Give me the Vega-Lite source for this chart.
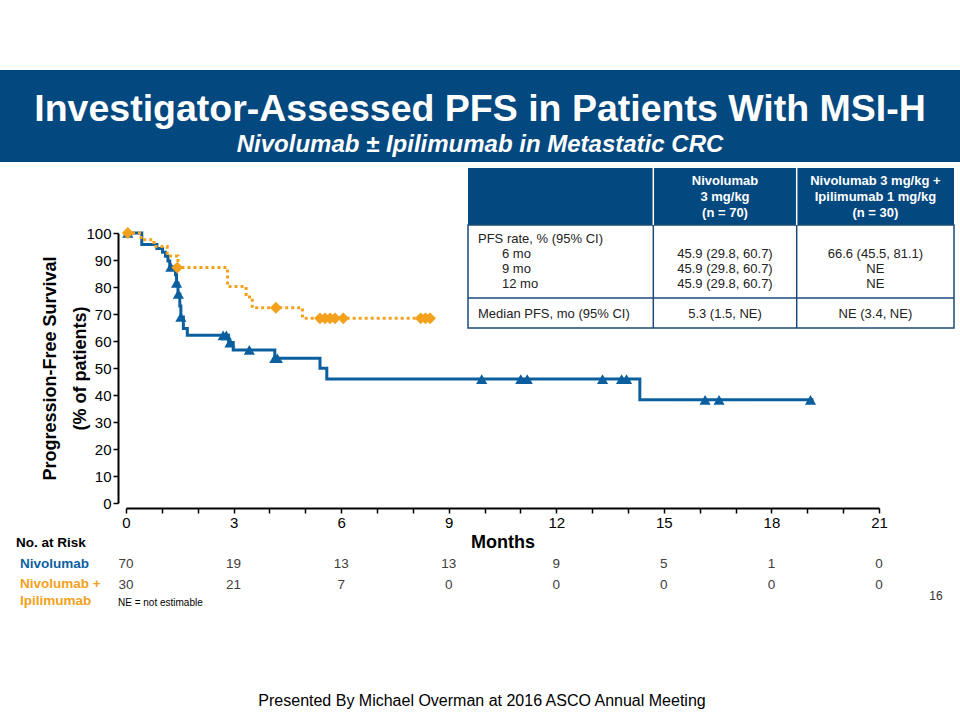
{
  "$schema": "https://vega.github.io/schema/vega-lite/v6.json",
  "width": 753,
  "height": 270,
  "autosize": {"type": "none"},
  "padding": {"left": 126, "top": 233, "right": 81, "bottom": 217},
  "background": "white",
  "config": {
    "view": {"stroke": null},
    "font": "Liberation Sans",
    "text": {"font": "Liberation Sans"}
  },
  "datasets": {
    "km": [
      {"arm": "Nivolumab", "month": 0, "pct": 100},
      {"arm": "Nivolumab", "month": 0.44, "pct": 95.7},
      {"arm": "Nivolumab", "month": 0.86, "pct": 94.3},
      {"arm": "Nivolumab", "month": 1.02, "pct": 92.9},
      {"arm": "Nivolumab", "month": 1.10, "pct": 91.4},
      {"arm": "Nivolumab", "month": 1.17, "pct": 89.6},
      {"arm": "Nivolumab", "month": 1.22, "pct": 87.4},
      {"arm": "Nivolumab", "month": 1.38, "pct": 84.5},
      {"arm": "Nivolumab", "month": 1.41, "pct": 81.5},
      {"arm": "Nivolumab", "month": 1.45, "pct": 77.4},
      {"arm": "Nivolumab", "month": 1.50, "pct": 73.0},
      {"arm": "Nivolumab", "month": 1.53, "pct": 68.9},
      {"arm": "Nivolumab", "month": 1.60, "pct": 64.6},
      {"arm": "Nivolumab", "month": 1.71, "pct": 62.1},
      {"arm": "Nivolumab", "month": 2.86, "pct": 59.4},
      {"arm": "Nivolumab", "month": 2.99, "pct": 56.7},
      {"arm": "Nivolumab", "month": 4.15, "pct": 53.6},
      {"arm": "Nivolumab", "month": 5.41, "pct": 49.9},
      {"arm": "Nivolumab", "month": 5.60, "pct": 45.9},
      {"arm": "Nivolumab", "month": 14.33, "pct": 38.2},
      {"arm": "Nivolumab", "month": 19.17, "pct": 38.2},
      {"arm": "Nivolumab + Ipilimumab", "month": 0, "pct": 100},
      {"arm": "Nivolumab + Ipilimumab", "month": 0.42, "pct": 97.5},
      {"arm": "Nivolumab + Ipilimumab", "month": 0.78, "pct": 95.0},
      {"arm": "Nivolumab + Ipilimumab", "month": 1.15, "pct": 91.5},
      {"arm": "Nivolumab + Ipilimumab", "month": 1.45, "pct": 87.2},
      {"arm": "Nivolumab + Ipilimumab", "month": 2.83, "pct": 80.2},
      {"arm": "Nivolumab + Ipilimumab", "month": 3.35, "pct": 76.3},
      {"arm": "Nivolumab + Ipilimumab", "month": 3.52, "pct": 72.3},
      {"arm": "Nivolumab + Ipilimumab", "month": 4.92, "pct": 68.4},
      {"arm": "Nivolumab + Ipilimumab", "month": 8.59, "pct": 68.4}
    ],
    "censor": [
      {"arm": "Nivolumab", "month": 0.05, "pct": 100},
      {"arm": "Nivolumab", "month": 1.25, "pct": 87.4},
      {"arm": "Nivolumab", "month": 1.41, "pct": 81.5},
      {"arm": "Nivolumab", "month": 1.46, "pct": 77.4},
      {"arm": "Nivolumab", "month": 1.53, "pct": 68.9},
      {"arm": "Nivolumab", "month": 2.71, "pct": 62.1},
      {"arm": "Nivolumab", "month": 2.80, "pct": 62.1},
      {"arm": "Nivolumab", "month": 2.90, "pct": 59.4},
      {"arm": "Nivolumab", "month": 3.44, "pct": 56.7},
      {"arm": "Nivolumab", "month": 4.15, "pct": 53.6},
      {"arm": "Nivolumab", "month": 4.22, "pct": 53.6},
      {"arm": "Nivolumab", "month": 9.92, "pct": 45.9},
      {"arm": "Nivolumab", "month": 11.01, "pct": 45.9},
      {"arm": "Nivolumab", "month": 11.19, "pct": 45.9},
      {"arm": "Nivolumab", "month": 13.29, "pct": 45.9},
      {"arm": "Nivolumab", "month": 13.82, "pct": 45.9},
      {"arm": "Nivolumab", "month": 13.96, "pct": 45.9},
      {"arm": "Nivolumab", "month": 16.15, "pct": 38.2},
      {"arm": "Nivolumab", "month": 16.54, "pct": 38.2},
      {"arm": "Nivolumab", "month": 19.09, "pct": 38.2},
      {"arm": "Nivolumab + Ipilimumab", "month": 0.05, "pct": 100},
      {"arm": "Nivolumab + Ipilimumab", "month": 1.43, "pct": 87.2},
      {"arm": "Nivolumab + Ipilimumab", "month": 4.18, "pct": 72.3},
      {"arm": "Nivolumab + Ipilimumab", "month": 5.41, "pct": 68.4},
      {"arm": "Nivolumab + Ipilimumab", "month": 5.55, "pct": 68.4},
      {"arm": "Nivolumab + Ipilimumab", "month": 5.69, "pct": 68.4},
      {"arm": "Nivolumab + Ipilimumab", "month": 5.83, "pct": 68.4},
      {"arm": "Nivolumab + Ipilimumab", "month": 6.06, "pct": 68.4},
      {"arm": "Nivolumab + Ipilimumab", "month": 8.22, "pct": 68.4},
      {"arm": "Nivolumab + Ipilimumab", "month": 8.35, "pct": 68.4},
      {"arm": "Nivolumab + Ipilimumab", "month": 8.48, "pct": 68.4}
    ],
    "atrisk": [
      {"arm": "Nivolumab", "month": 0, "n": 70},
      {"arm": "Nivolumab", "month": 3, "n": 19},
      {"arm": "Nivolumab", "month": 6, "n": 13},
      {"arm": "Nivolumab", "month": 9, "n": 13},
      {"arm": "Nivolumab", "month": 12, "n": 9},
      {"arm": "Nivolumab", "month": 15, "n": 5},
      {"arm": "Nivolumab", "month": 18, "n": 1},
      {"arm": "Nivolumab", "month": 21, "n": 0},
      {"arm": "Nivolumab + Ipilimumab", "month": 0, "n": 30},
      {"arm": "Nivolumab + Ipilimumab", "month": 3, "n": 21},
      {"arm": "Nivolumab + Ipilimumab", "month": 6, "n": 7},
      {"arm": "Nivolumab + Ipilimumab", "month": 9, "n": 0},
      {"arm": "Nivolumab + Ipilimumab", "month": 12, "n": 0},
      {"arm": "Nivolumab + Ipilimumab", "month": 15, "n": 0},
      {"arm": "Nivolumab + Ipilimumab", "month": 18, "n": 0},
      {"arm": "Nivolumab + Ipilimumab", "month": 21, "n": 0}
    ],
    "risklabels": [
      {"kind": "heading", "row": "heading", "text": "No. at Risk"},
      {"kind": "arm", "row": "Nivolumab", "text": "Nivolumab"},
      {"kind": "arm", "row": "Nivolumab + Ipilimumab", "text": "Nivolumab +\nIpilimumab"}
    ],
    "tableheader": [
      {"col": "nivo", "line": 1, "text": "Nivolumab"},
      {"col": "nivo", "line": 2, "text": "3 mg/kg"},
      {"col": "nivo", "line": 3, "text": "(n = 70)"},
      {"col": "combo", "line": 1, "text": "Nivolumab 3 mg/kg +"},
      {"col": "combo", "line": 2, "text": "Ipilimumab 1 mg/kg"},
      {"col": "combo", "line": 3, "text": "(n = 30)"}
    ],
    "tablelabels": [
      {"level": "main", "line": 1, "text": "PFS rate, % (95% CI)"},
      {"level": "sub", "line": 2, "text": "6 mo"},
      {"level": "sub", "line": 3, "text": "9 mo"},
      {"level": "sub", "line": 4, "text": "12 mo"},
      {"level": "main", "line": 6, "text": "Median PFS, mo (95% CI)"}
    ],
    "tablevalues": [
      {"col": "nivo", "line": 2, "text": "45.9 (29.8, 60.7)"},
      {"col": "nivo", "line": 3, "text": "45.9 (29.8, 60.7)"},
      {"col": "nivo", "line": 4, "text": "45.9 (29.8, 60.7)"},
      {"col": "nivo", "line": 6, "text": "5.3 (1.5, NE)"},
      {"col": "combo", "line": 2, "text": "66.6 (45.5, 81.1)"},
      {"col": "combo", "line": 3, "text": "NE"},
      {"col": "combo", "line": 4, "text": "NE"},
      {"col": "combo", "line": 6, "text": "NE (3.4, NE)"}
    ],
    "separators": [
      {"sep": "a", "top": "top", "bottom": "bottom"},
      {"sep": "b", "top": "top", "bottom": "bottom"}
    ]
  },
  "layer": [
    {
      "data": {"values": [{"part": "banner"}]},
      "mark": {"type": "rect", "color": "#03487f"},
      "encoding": {
        "x": {"field": "part", "type": "nominal", "scale": {"type": "band", "domain": ["banner"], "range": [-126, 834], "paddingInner": 0, "paddingOuter": 0}, "axis": null},
        "y": {"field": "part", "type": "nominal", "scale": {"type": "band", "domain": ["banner"], "range": [-163, -71], "paddingInner": 0, "paddingOuter": 0}, "axis": null}
      }
    },
    {
      "data": {"values": [{"line": "title", "text": "Investigator-Assessed PFS in Patients With MSI-H"}]},
      "mark": {"type": "text", "color": "white", "fontSize": 37.5, "fontWeight": "bold", "align": "center", "baseline": "alphabetic"},
      "encoding": {
        "x": {"field": "line", "type": "nominal", "scale": {"type": "point", "domain": ["title"], "range": [353, 355]}, "axis": null},
        "y": {"field": "line", "type": "nominal", "scale": {"type": "point", "domain": ["title"], "range": [-113, -111]}, "axis": null},
        "text": {"field": "text"}
      }
    },
    {
      "data": {"values": [{"line": "subtitle", "text": "Nivolumab ± Ipilimumab in Metastatic CRC"}]},
      "mark": {"type": "text", "color": "white", "fontSize": 24, "fontWeight": "bold", "fontStyle": "italic", "align": "center", "baseline": "alphabetic"},
      "encoding": {
        "x": {"field": "line", "type": "nominal", "scale": {"type": "point", "domain": ["subtitle"], "range": [353, 355]}, "axis": null},
        "y": {"field": "line", "type": "nominal", "scale": {"type": "point", "domain": ["subtitle"], "range": [-82, -80]}, "axis": null},
        "text": {"field": "text"}
      }
    },
    {
      "data": {"values": [{"part": "header"}]},
      "mark": {"type": "rect", "color": "#03487f"},
      "encoding": {
        "x": {"field": "part", "type": "nominal", "scale": {"type": "band", "domain": ["header"], "range": [342, 828], "paddingInner": 0, "paddingOuter": 0}, "axis": null},
        "y": {"field": "part", "type": "nominal", "scale": {"type": "band", "domain": ["header"], "range": [-65, -8], "paddingInner": 0, "paddingOuter": 0}, "axis": null}
      }
    },
    {
      "data": {"values": [{"part": "body"}]},
      "mark": {"type": "rect", "fill": "white", "stroke": "#1b4b7a", "strokeWidth": 1.5},
      "encoding": {
        "x": {"field": "part", "type": "nominal", "scale": {"type": "band", "domain": ["body"], "range": [342, 828], "paddingInner": 0, "paddingOuter": 0}, "axis": null},
        "y": {"field": "part", "type": "nominal", "scale": {"type": "band", "domain": ["body"], "range": [-8, 95], "paddingInner": 0, "paddingOuter": 0}, "axis": null}
      }
    },
    {
      "data": {"values": [{"x1": "left", "x2": "right", "row": "sep"}]},
      "mark": {"type": "rule", "color": "#1b4b7a", "strokeWidth": 1.5},
      "encoding": {
        "x": {"field": "x1", "type": "nominal", "scale": {"type": "point", "domain": ["left", "right"], "range": [342, 828], "padding": 0}, "axis": null},
        "x2": {"field": "x2"},
        "y": {"field": "row", "type": "nominal", "scale": {"type": "point", "domain": ["sep"], "range": [64, 66]}, "axis": null}
      }
    },
    {
      "data": {"name": "separators"},
      "mark": {"type": "rule", "color": "#1b4b7a", "strokeWidth": 1.5},
      "encoding": {
        "x": {"field": "sep", "type": "nominal", "scale": {"type": "point", "domain": ["a", "b"], "range": [527.3, 670.7], "padding": 0}, "axis": null},
        "y": {"field": "top", "type": "nominal", "scale": {"type": "point", "domain": ["top", "bottom"], "range": [-8, 95], "padding": 0}, "axis": null},
        "y2": {"field": "bottom"}
      }
    },
    {
      "data": {"name": "separators"},
      "mark": {"type": "rule", "color": "white", "strokeWidth": 1.5},
      "encoding": {
        "x": {"field": "sep", "type": "nominal", "scale": {"type": "point", "domain": ["a", "b"], "range": [527.3, 670.7], "padding": 0}, "axis": null},
        "y": {"field": "top", "type": "nominal", "scale": {"type": "point", "domain": ["top", "bottom"], "range": [-65, -8], "padding": 0}, "axis": null},
        "y2": {"field": "bottom"}
      }
    },
    {
      "data": {"name": "tableheader"},
      "mark": {"type": "text", "color": "white", "fontSize": 13, "fontWeight": "bold", "align": "center", "baseline": "alphabetic"},
      "encoding": {
        "x": {"field": "col", "type": "nominal", "scale": {"type": "point", "domain": ["nivo", "combo"], "range": [599, 749.4], "padding": 0}, "axis": null},
        "y": {"field": "line", "type": "ordinal", "scale": {"type": "point", "domain": [1, 2, 3], "range": [-48, -16], "padding": 0}, "axis": null},
        "text": {"field": "text"}
      }
    },
    {
      "data": {"name": "tablelabels"},
      "mark": {"type": "text", "color": "#222222", "fontSize": 13, "align": "left", "baseline": "alphabetic"},
      "encoding": {
        "x": {"field": "level", "type": "nominal", "scale": {"type": "point", "domain": ["main", "sub"], "range": [352, 376], "padding": 0}, "axis": null},
        "y": {"field": "line", "type": "ordinal", "scale": {"type": "point", "domain": [1, 2, 3, 4, 5, 6], "range": [10, 85], "padding": 0}, "axis": null},
        "text": {"field": "text"}
      }
    },
    {
      "data": {"name": "tablevalues"},
      "mark": {"type": "text", "color": "#222222", "fontSize": 13, "align": "center", "baseline": "alphabetic"},
      "encoding": {
        "x": {"field": "col", "type": "nominal", "scale": {"type": "point", "domain": ["nivo", "combo"], "range": [599, 749.4], "padding": 0}, "axis": null},
        "y": {"field": "line", "type": "ordinal", "scale": {"type": "point", "domain": [1, 2, 3, 4, 5, 6], "range": [10, 85], "padding": 0}, "axis": null},
        "text": {"field": "text"}
      }
    },
    {
      "encoding": {
        "x": {
          "field": "month", "type": "quantitative",
          "scale": {"domain": [0, 21], "nice": false, "zero": false},
          "axis": {
            "values": [0, 1, 2, 3, 4, 5, 6, 7, 8, 9, 10, 11, 12, 13, 14, 15, 16, 17, 18, 19, 20, 21],
            "labelExpr": "datum.value % 3 === 0 ? datum.label : ''",
            "labelOverlap": false, "labelFlush": false, "grid": false,
            "offset": 5, "tickSize": 5, "tickWidth": 1.5, "tickColor": "black",
            "domainColor": "black", "domainWidth": 2,
            "labelFontSize": 15, "labelColor": "black", "labelPadding": 2,
            "title": "Months", "titleFontSize": 18, "titleFontWeight": "bold", "titleColor": "black", "titlePadding": 3
          }
        },
        "y": {
          "field": "pct", "type": "quantitative",
          "scale": {"domain": [0, 100], "nice": false},
          "axis": {
            "values": [0, 10, 20, 30, 40, 50, 60, 70, 80, 90, 100],
            "labelOverlap": false, "labelFlush": false,
            "grid": false, "offset": 8, "tickSize": 5, "tickWidth": 1.5, "tickColor": "black",
            "domainColor": "black", "domainWidth": 2,
            "labelFontSize": 15, "labelColor": "black", "labelPadding": 2,
            "title": ["Progression-Free Survival", "(% of patients)"],
            "titleFontSize": 18, "titleFontWeight": "bold", "titleColor": "black", "titlePadding": -4, "titleLineHeight": 30
          }
        },
        "color": {"field": "arm", "type": "nominal", "scale": {"domain": ["Nivolumab", "Nivolumab + Ipilimumab"], "range": ["#0b5f9f", "#f3a11c"]}, "legend": null}
      },
      "layer": [
        {
          "data": {"name": "km"},
          "mark": {"type": "line", "interpolate": "step-after", "strokeWidth": 3},
          "encoding": {
            "strokeDash": {"field": "arm", "type": "nominal", "scale": {"domain": ["Nivolumab", "Nivolumab + Ipilimumab"], "range": [[1, 0], [3, 3]]}, "legend": null}
          }
        },
        {
          "data": {"name": "censor"},
          "mark": {"type": "point", "filled": true, "opacity": 1},
          "encoding": {
            "shape": {"field": "arm", "type": "nominal", "scale": {"domain": ["Nivolumab", "Nivolumab + Ipilimumab"], "range": ["triangle-up", "diamond"]}, "legend": null},
            "size": {"field": "arm", "type": "nominal", "scale": {"domain": ["Nivolumab", "Nivolumab + Ipilimumab"], "range": [125, 140]}, "legend": null}
          }
        }
      ]
    },
    {
      "data": {"name": "atrisk"},
      "mark": {"type": "text", "color": "#404040", "fontSize": 13.5, "align": "center", "baseline": "alphabetic"},
      "encoding": {
        "x": {"field": "month", "type": "quantitative", "scale": {"domain": [0, 21], "nice": false, "zero": false}, "axis": null},
        "y": {"field": "arm", "type": "nominal", "scale": {"type": "point", "domain": ["Nivolumab", "Nivolumab + Ipilimumab"], "range": [334.5, 355.5], "padding": 0}, "axis": null},
        "text": {"field": "n", "type": "quantitative"}
      }
    },
    {
      "data": {"name": "risklabels"},
      "mark": {"type": "text", "fontSize": 13.5, "fontWeight": "bold", "align": "left", "baseline": "alphabetic", "lineBreak": "\n", "lineHeight": 17},
      "encoding": {
        "x": {"field": "kind", "type": "nominal", "scale": {"type": "point", "domain": ["heading", "arm"], "range": [-110, -106], "padding": 0}, "axis": null},
        "y": {"field": "row", "type": "nominal", "scale": {"type": "point", "domain": ["heading", "Nivolumab", "Nivolumab + Ipilimumab"], "range": [314, 355], "padding": 0}, "axis": null},
        "color": {"field": "row", "type": "nominal", "scale": {"domain": ["heading", "Nivolumab", "Nivolumab + Ipilimumab"], "range": ["black", "#0b5f9f", "#f3a11c"]}, "legend": null},
        "text": {"field": "text"}
      }
    },
    {
      "data": {"values": [{"note": "ne", "text": "NE = not estimable"}]},
      "mark": {"type": "text", "color": "black", "fontSize": 10, "align": "left", "baseline": "alphabetic"},
      "encoding": {
        "x": {"field": "note", "type": "nominal", "scale": {"type": "point", "domain": ["ne"], "range": [-9, -7]}, "axis": null},
        "y": {"field": "note", "type": "nominal", "scale": {"type": "point", "domain": ["ne"], "range": [372, 374]}, "axis": null},
        "text": {"field": "text"}
      }
    },
    {
      "data": {"values": [{"note": "page", "text": "16"}]},
      "mark": {"type": "text", "color": "#333333", "fontSize": 12, "align": "center", "baseline": "alphabetic"},
      "encoding": {
        "x": {"field": "note", "type": "nominal", "scale": {"type": "point", "domain": ["page"], "range": [809, 811]}, "axis": null},
        "y": {"field": "note", "type": "nominal", "scale": {"type": "point", "domain": ["page"], "range": [366, 368]}, "axis": null},
        "text": {"field": "text"}
      }
    },
    {
      "data": {"values": [{"note": "footer", "text": "Presented By Michael Overman at 2016 ASCO Annual Meeting"}]},
      "mark": {"type": "text", "color": "black", "fontSize": 16, "align": "center", "baseline": "alphabetic"},
      "encoding": {
        "x": {"field": "note", "type": "nominal", "scale": {"type": "point", "domain": ["footer"], "range": [355, 357]}, "axis": null},
        "y": {"field": "note", "type": "nominal", "scale": {"type": "point", "domain": ["footer"], "range": [472, 474]}, "axis": null},
        "text": {"field": "text"}
      }
    }
  ],
  "resolve": {"scale": {"x": "independent", "y": "independent", "color": "independent", "shape": "independent", "strokeDash": "independent", "size": "independent"}}
}
